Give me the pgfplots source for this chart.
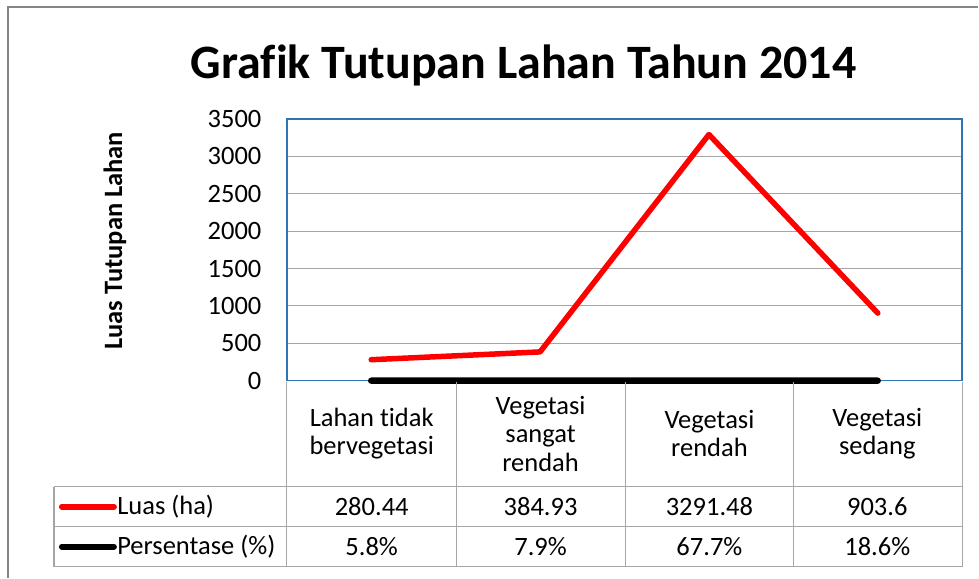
\documentclass[border=0pt]{standalone}
\usepackage{pgfplots}
\pgfplotsset{compat=1.18}
\usepackage{fontspec}
\setmainfont[Ligatures=NoCommon]{Carlito}
\definecolor{gridgray}{RGB}{166,166,166}
\definecolor{frameblue}{RGB}{46,117,182}
\definecolor{outergray}{RGB}{134,134,134}
\newcommand{\tf}{\fontsize{13.25}{14.25}\selectfont}
\begin{document}
\begin{tikzpicture}
\begin{scope}[x=0.5pt,y=-0.5pt]
\path (0,0) rectangle (979,578);
\draw[outergray, line width=0.8pt] (8,578) -- (8,7) -- (979,7);
\node[anchor=base, font=\fontsize{24}{28}\selectfont\bfseries, inner sep=0pt] at (524,79) {Grafik Tutupan Lahan Tahun 2014};
\node[rotate=90, font=\tf\bfseries, inner sep=0pt] at (115,241) {Luas Tutupan Lahan};
\end{scope}
\begin{axis}[
 at={(143.5pt,-190.5pt)}, anchor=south west, scale only axis, width=338pt, height=131pt,
 xmin=0.5, xmax=4.5, ymin=0, ymax=3500, ytick={0,500,...,3500}, xtick=\empty,
 ymajorgrids, grid style={gridgray, line width=0.6pt},
 axis line style={frameblue, line width=0.8pt},
 major tick length=0pt,
 yticklabel style={font=\tf, anchor=east, inner sep=0pt, xshift=-12.5pt},
 /pgf/number format/assume math mode=true, /pgf/number format/1000 sep={},
 clip=false,
]
\addplot[red, line width=2.75pt, line join=round, line cap=round] coordinates {(1,280.44)(2,384.93)(3,3291.48)(4,903.6)};
\addplot[black, line width=3.2pt, line cap=round] coordinates {(1,0.058)(2,0.079)(3,0.677)(4,0.186)};
\end{axis}
\begin{scope}[x=0.5pt,y=-0.5pt]
\draw[gridgray, line width=0.6pt] (287,382) -- (287,567);
\foreach \xx in {457,626,794,963} \draw[gridgray, line width=0.6pt] (\xx,382) -- (\xx,567);
\foreach \yy in {487,527,567} \draw[gridgray, line width=0.6pt] (54,\yy) -- (963,\yy);
\draw[gridgray, line width=0.6pt] (54,487) -- (54,567);
\node[align=center, font=\tf, inner sep=0pt] at (372,434) {Lahan tidak\\bervegetasi};
\node[align=center, font=\tf, inner sep=0pt] at (541,434) {Vegetasi\\sangat\\rendah};
\node[align=center, font=\tf, inner sep=0pt] at (710,434) {Vegetasi\\rendah};
\node[align=center, font=\tf, inner sep=0pt] at (878,434) {Vegetasi\\sedang};
\draw[red, line width=3pt, line cap=round] (62,507) -- (114,507);
\draw[black, line width=3pt, line cap=round] (62,547) -- (114,547);
\node[anchor=west, font=\tf, inner sep=0pt] at (117,507) {Luas (ha)};
\node[anchor=west, font=\tf, inner sep=0pt] at (117,547) {Persentase (\%)};
\node[font=\tf, inner sep=0pt] at (372,507) {280.44};
\node[font=\tf, inner sep=0pt] at (541,507) {384.93};
\node[font=\tf, inner sep=0pt] at (710,507) {3291.48};
\node[font=\tf, inner sep=0pt] at (878,507) {903.6};
\node[font=\tf, inner sep=0pt] at (372,547) {5.8\%};
\node[font=\tf, inner sep=0pt] at (541,547) {7.9\%};
\node[font=\tf, inner sep=0pt] at (710,547) {67.7\%};
\node[font=\tf, inner sep=0pt] at (878,547) {18.6\%};
\end{scope}
\end{tikzpicture}
\end{document}
